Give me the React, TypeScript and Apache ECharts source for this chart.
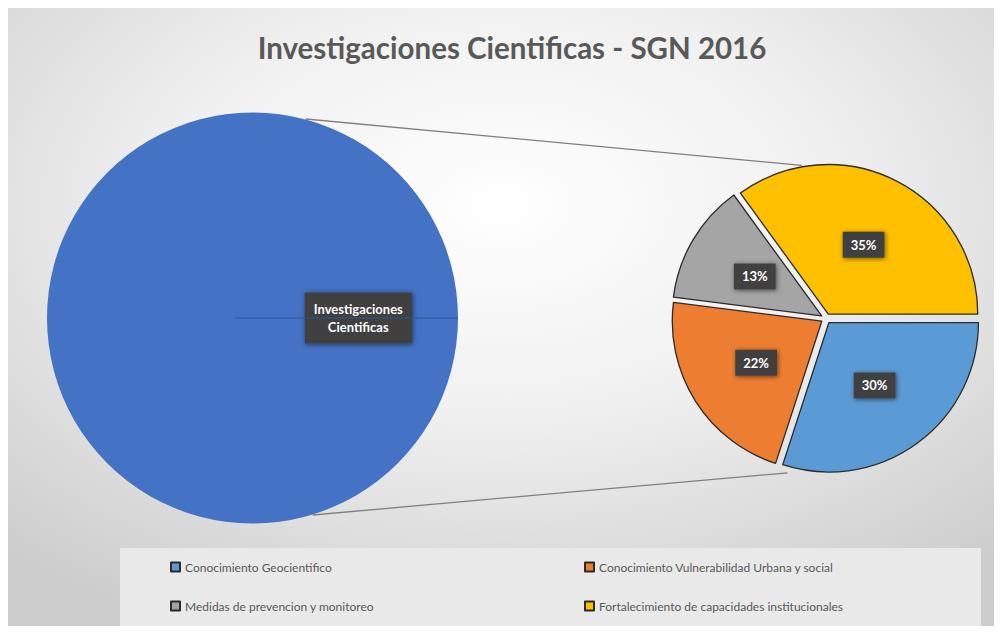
import React, { useEffect, useRef } from "react";
import * as echarts from "echarts";

const titleText = "Investigaciones Cientificas - SGN 2016";
const mainCategory = "Investigaciones Cientificas";
const mainValue = 100;
const categories = [
  "Conocimiento Geocientifico",
  "Conocimiento Vulnerabilidad Urbana y social",
  "Medidas de prevencion y monitoreo",
  "Fortalecimiento de capacidades institucionales",
];
const values = [30, 22, 13, 35];
const colors = ["#5B9BD5", "#ED7D31", "#A5A5A5", "#FFC000"];
const legendCol1 = [categories[0], categories[2]];
const legendCol2 = [categories[1], categories[3]];

// geometry
const W = 986;
const H = 618;
const bigC = [244.5, 310];
const bigR = 205.5;
const smallC = [818, 310.5];
const smallR = 149.5;
const explode = 5;

function polar(c: number[], r: number, deg: number) {
  const a = (deg * Math.PI) / 180;
  return [c[0] + r * Math.cos(a), c[1] - r * Math.sin(a)];
}

export default function App() {
  const ref = useRef<HTMLDivElement>(null);
  useEffect(() => {
    if (!ref.current) return;
    const chart = echarts.init(ref.current, undefined, { renderer: "svg" });
    const bt = polar(bigC, bigR + 0.5, 75);
    const st = polar(smallC, smallR + 5.5, 99);
    const bb = polar(bigC, bigR + 0.5, -73);
    const sb = polar(smallC, smallR + 9.5, -104);
    const labelBox = {
      color: "#ffffff",
      fontWeight: "bold" as const,
      fontFamily: "Lato",
      fontSize: 13,
      backgroundColor: "#404040",
      shadowColor: "rgba(0,0,0,0.55)",
      shadowBlur: 5,
      shadowOffsetX: 1,
      shadowOffsetY: 1,
    };
    chart.setOption({
      animation: false,
      textStyle: { fontFamily: "Lato" },
      graphic: [
        {
          type: "rect",
          z: -10,
          silent: true,
          shape: { x: 0, y: 0, width: W, height: H },
          style: {
            fill: {
              type: "radial",
              x: 0.5,
              y: 0.32,
              r: 0.75,
              colorStops: [
                { offset: 0, color: "#ffffff" },
                { offset: 0.45, color: "#f0f0f0" },
                { offset: 1, color: "#cdcdcd" },
              ],
            },
          },
        },
        {
          type: "rect",
          z: -5,
          silent: true,
          shape: { x: 112, y: 540, width: 861, height: 78 },
          style: { fill: "#e9e9e9" },
        },
        {
          type: "line",
          z: 1,
          silent: true,
          shape: { x1: bt[0], y1: bt[1], x2: st[0], y2: st[1] },
          style: { stroke: "#808080", lineWidth: 1.3 },
        },
        {
          type: "line",
          z: 1,
          silent: true,
          shape: { x1: bb[0], y1: bb[1], x2: sb[0], y2: sb[1] },
          style: { stroke: "#808080", lineWidth: 1.3 },
        },
        {
          type: "line",
          z: 5,
          silent: true,
          shape: { x1: bigC[0] - 17, y1: bigC[1], x2: bigC[0] + bigR, y2: bigC[1] },
          style: { stroke: "#2f5597", lineWidth: 1.2 },
        },
      ],
      title: {
        text: titleText,
        left: 499,
        top: 19,
        textAlign: "center",
        textStyle: {
          fontFamily: "Lato",
          fontWeight: "bold",
          fontSize: 29.5,
          color: "#595959",
        },
      },
      legend: [
        {
          data: legendCol1,
          orient: "vertical",
          left: 157,
          top: 548,
          itemGap: 27,
          itemWidth: 9,
          itemHeight: 9,
          icon: "rect",
          selectedMode: false,
          textStyle: { color: "#595959", fontSize: 12, fontFamily: "Lato" },
        },
        {
          data: legendCol2,
          orient: "vertical",
          left: 571,
          top: 548,
          itemGap: 27,
          itemWidth: 9,
          itemHeight: 9,
          icon: "rect",
          selectedMode: false,
          textStyle: { color: "#595959", fontSize: 12, fontFamily: "Lato" },
        },
      ],
      series: [
        {
          type: "pie",
          name: "main",
          center: bigC,
          radius: bigR,
          startAngle: 180,
          clockwise: true,
          silent: true,
          data: [{ name: mainCategory, value: mainValue }],
          itemStyle: { color: "#4472C4", borderWidth: 0 },
          label: {
            show: true,
            position: "inside",
            formatter: () => mainCategory.replace(" ", "\n"),
            lineHeight: 18,
            padding: [8, 9, 7, 9],
            ...labelBox,
          },
          labelLine: { show: false },
        },
        {
          type: "pie",
          name: "detail",
          center: smallC,
          radius: smallR,
          startAngle: 0,
          clockwise: true,
          selectedMode: "multiple",
          selectedOffset: explode,
          silent: true,
          data: categories.map((n, i) => ({
            name: n,
            value: values[i],
            selected: true,
            itemStyle: { color: colors[i] },
          })),
          itemStyle: { borderColor: "#2b2b2b", borderWidth: 1.3 },
          label: {
            show: true,
            position: "inside",
            formatter: "{c}%",
            padding: [7, 8, 6, 8],
            ...labelBox,
          },
          labelLine: { show: false },
          emphasis: { disabled: true },
        },
      ],
    });
    return () => chart.dispose();
  }, []);
  return <div ref={ref} style={{ width: W, height: H }} />;
}
